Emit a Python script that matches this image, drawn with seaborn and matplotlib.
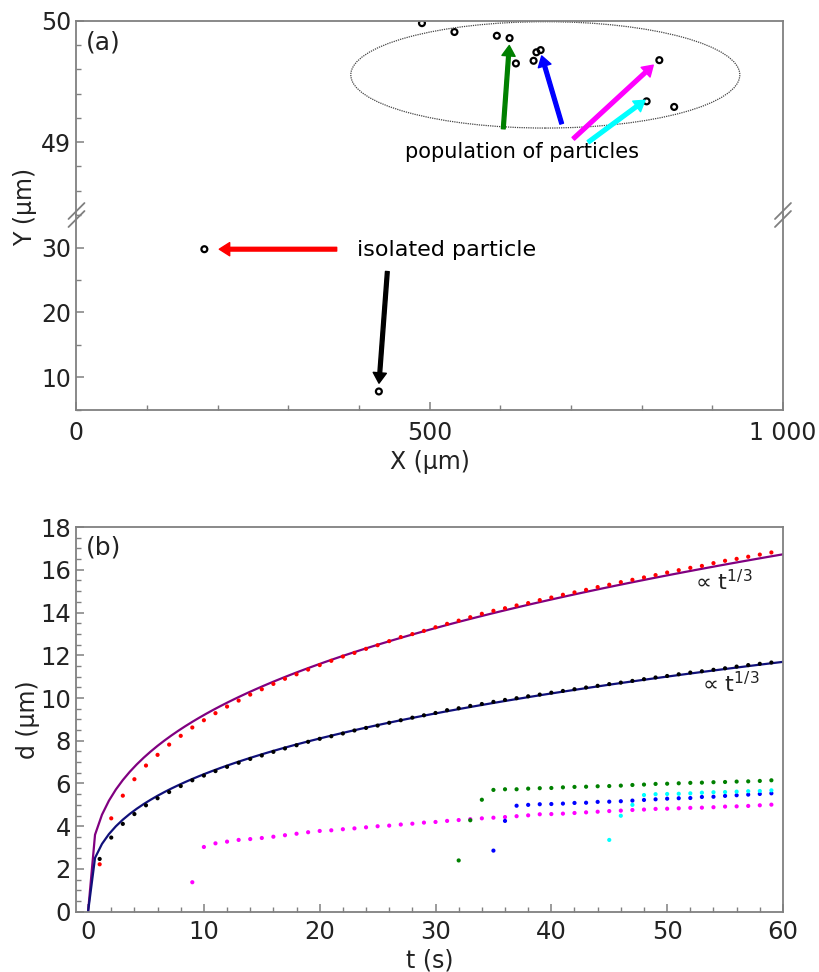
import matplotlib
import numpy as np
import pandas as pd

matplotlib.use("Agg")
import matplotlib.pyplot as plt
import seaborn as sns
from matplotlib.patches import Ellipse
from matplotlib.ticker import FixedLocator, MultipleLocator

# ---- panel (a): particle positions (um) ----
pop_x = [489, 535, 595, 613, 622, 647, 651, 657, 825, 807, 846]
pop_y = [49.98, 49.907, 49.876, 49.857, 49.648, 49.67, 49.74, 49.758, 49.675, 49.336, 49.29]
iso_x = [181, 428]
iso_y = [29.74, 7.85]
x_ticks = [0, 500, 1000]
x_tick_labels = ["0", "500", "1 000"]

# ---- panel (b): distance d (um) against time t (s), one value per second ----
t_black = np.arange(1, 60)
d_black = [2.47, 3.47, 4.11, 4.57, 4.98, 5.31, 5.60, 5.88, 6.15, 6.37,
           6.58, 6.78, 6.97, 7.15, 7.31, 7.48, 7.64, 7.79, 7.95, 8.09,
           8.21, 8.34, 8.48, 8.60, 8.71, 8.84, 8.96, 9.08, 9.19, 9.30,
           9.43, 9.52, 9.63, 9.72, 9.82, 9.91, 9.99, 10.08, 10.16, 10.25,
           10.33, 10.41, 10.49, 10.57, 10.65, 10.72, 10.80, 10.88, 10.96, 11.03,
           11.11, 11.19, 11.25, 11.32, 11.39, 11.47, 11.54, 11.60, 11.66]
t_red = np.arange(1, 60)
d_red = [2.22, 4.37, 5.43, 6.20, 6.84, 7.34, 7.82, 8.23, 8.62, 8.96,
         9.29, 9.60, 9.88, 10.16, 10.41, 10.66, 10.90, 11.11, 11.33, 11.54,
         11.74, 11.94, 12.11, 12.30, 12.47, 12.66, 12.85, 12.99, 13.14, 13.31,
         13.47, 13.62, 13.78, 13.94, 14.08, 14.20, 14.33, 14.44, 14.58, 14.70,
         14.83, 14.94, 15.06, 15.19, 15.30, 15.42, 15.53, 15.64, 15.75, 15.87,
         15.98, 16.09, 16.18, 16.31, 16.42, 16.51, 16.61, 16.71, 16.81]
t_magenta = np.arange(9, 60)
d_magenta = [1.38, 3.03, 3.20, 3.28, 3.36, 3.40, 3.45, 3.51, 3.58, 3.65,
             3.72, 3.78, 3.81, 3.86, 3.90, 3.95, 4.00, 4.03, 4.08, 4.12,
             4.17, 4.20, 4.25, 4.29, 4.33, 4.37, 4.40, 4.43, 4.47, 4.51,
             4.56, 4.57, 4.59, 4.62, 4.65, 4.68, 4.71, 4.73, 4.76, 4.78,
             4.81, 4.82, 4.84, 4.86, 4.87, 4.89, 4.92, 4.93, 4.95, 4.98, 5.01]
t_green = np.arange(32, 60)
d_green = [2.40, 4.28, 5.24, 5.70, 5.73, 5.73, 5.76, 5.78, 5.79, 5.82,
           5.84, 5.85, 5.87, 5.88, 5.90, 5.93, 5.95, 5.98, 5.99, 6.01,
           6.03, 6.04, 6.06, 6.07, 6.09, 6.10, 6.12, 6.15]
t_blue = np.arange(35, 60)
d_blue = [2.86, 4.25, 4.96, 5.00, 5.03, 5.04, 5.06, 5.09, 5.10, 5.14,
          5.15, 5.17, 5.20, 5.23, 5.26, 5.29, 5.31, 5.32, 5.37, 5.38,
          5.42, 5.45, 5.48, 5.51, 5.54]
t_cyan = np.arange(45, 60)
d_cyan = [3.36, 4.49, 5.00, 5.46, 5.50, 5.51, 5.52, 5.54, 5.57, 5.59,
          5.60, 5.62, 5.64, 5.65, 5.68]

colors = {"black": "black", "red": "red", "magenta": "magenta",
          "green": "green", "blue": "blue", "cyan": "cyan"}

sns.set_theme(style="ticks")
plt.rcParams["font.family"] = ["DejaVu Sans"]
plt.rcParams.update({
    "xtick.direction": "in", "ytick.direction": "in",
    "axes.edgecolor": "#808080", "axes.linewidth": 1.3,
    "xtick.color": "#808080", "ytick.color": "#808080",
    "xtick.labelcolor": "#222222", "ytick.labelcolor": "#222222",
    "xtick.major.size": 6, "ytick.major.size": 6,
    "xtick.minor.size": 3.5, "ytick.minor.size": 3.5,
    "xtick.major.width": 1.1, "ytick.major.width": 1.1,
    "xtick.minor.width": 1.0, "ytick.minor.width": 1.0,
})

fig = plt.figure(figsize=(8.19, 9.72), dpi=100)
ax_top = fig.add_axes([0.0934, 0.7788, 0.8626, 0.1999])
ax_low = fig.add_axes([0.0934, 0.5782, 0.8626, 0.2006])
ax_b = fig.add_axes([0.0934, 0.0620, 0.8626, 0.3958])

# ---------- panel (a) ----------
for ax in (ax_top, ax_low):
    ax.set_xlim(0, 1000)
ax_top.set_ylim(48.4, 50)
ax_low.set_ylim(5, 35)

ax_top.spines["bottom"].set_visible(False)
ax_low.spines["top"].set_visible(False)
ax_top.tick_params(axis="x", which="both", bottom=False, labelbottom=False)
ax_top.yaxis.set_major_locator(MultipleLocator(1))
ax_top.yaxis.set_minor_locator(MultipleLocator(0.2))
ax_low.yaxis.set_major_locator(MultipleLocator(10))
ax_low.yaxis.set_minor_locator(MultipleLocator(5))
ax_low.xaxis.set_major_locator(FixedLocator(x_ticks))
ax_low.set_xticklabels(x_tick_labels)
ax_low.xaxis.set_minor_locator(MultipleLocator(100))
for ax in (ax_top, ax_low):
    ax.tick_params(axis="y", labelsize=17, pad=4)
ax_low.tick_params(axis="x", labelsize=17, pad=8)

ring = dict(marker="o", s=18, facecolor="none", edgecolor="black", linewidth=1.6)
sns.scatterplot(x=pop_x, y=pop_y, ax=ax_top, **ring)
sns.scatterplot(x=iso_x, y=iso_y, ax=ax_low, **ring)

ax_top.add_patch(Ellipse((663.6, 49.554), 550.6, 0.876, fill=False,
                         ls=(0, (1, 0.8)), lw=0.9, ec="#444444"))

arr = dict(width=2.7, headwidth=9.5, headlength=7.5, shrink=0)
top_arrows = [
    ("green", (612.6, 49.796), (604.1, 49.11)),
    ("blue", (658.5, 49.71), (686.8, 49.152)),
    ("magenta", (816.4, 49.634), (703.2, 49.028)),
    ("cyan", (804.7, 49.345), (724.4, 49.0)),
]
for c, head, tail in top_arrows:
    ax_top.annotate("", xy=head, xytext=tail,
                    arrowprops=dict(facecolor=c, edgecolor=c, **arr))
ax_top.text(630.6, 48.917, "population of particles", ha="center", va="center",
            fontsize=15, color="black")

ax_low.annotate("", xy=(202.1, 29.74), xytext=(368.3, 29.74),
                arrowprops=dict(facecolor="red", edgecolor="red", **arr))
ax_low.annotate("", xy=(428.2, 9.12), xytext=(440, 26.3),
                arrowprops=dict(facecolor="black", edgecolor="black", **arr))
ax_low.text(524.4, 29.6, "isolated particle", ha="center", va="center",
            fontsize=16, color="black")

ax_top.text(0.013, 0.888, "(a)", transform=ax_top.transAxes, ha="left",
            va="center", fontsize=18, color="#222222")

# break marks "//" on both vertical spines
dx, dy, off = 0.0113, 0.041, 0.0205
for xs in (0, 1):
    for o in (-off, off):
        ax_low.plot([xs - dx, xs + dx], [1 + o - dy, 1 + o + dy],
                    transform=ax_low.transAxes, color="#808080", lw=1.3,
                    clip_on=False)

ax_low.set_xlabel("X (µm)", fontsize=17, color="#222222", labelpad=3.5)
fig.text(0.031, 1 - 207 / 972, "Y (µm)", rotation=90, ha="center",
         va="center", fontsize=17, color="#222222")

# ---------- panel (b) ----------
series = [("black", t_black, d_black), ("red", t_red, d_red),
          ("magenta", t_magenta, d_magenta), ("green", t_green, d_green),
          ("blue", t_blue, d_blue), ("cyan", t_cyan, d_cyan)]
df = pd.concat([pd.DataFrame({"t": t, "d": d, "particle": name})
                for name, t, d in series], ignore_index=True)

# d = A * t^(1/3), A from a least-squares fit of the black and red points
t_fit = np.linspace(0, 60, 101)
for name, line_c in (("red", "#800080"), ("black", "#10107a")):
    sub = df[df["particle"] == name]
    tc = sub["t"].to_numpy() ** (1 / 3)
    amp = np.sum(sub["d"].to_numpy() * tc) / np.sum(tc ** 2)
    sns.lineplot(x=t_fit, y=amp * t_fit ** (1 / 3), ax=ax_b, color=line_c,
                 lw=1.6, sort=False, errorbar=None)

sns.scatterplot(data=df, x="t", y="d", hue="particle", palette=colors,
                s=9, linewidth=0, legend=False, ax=ax_b, zorder=3)

ax_b.set_xlim(-1, 60)
ax_b.set_ylim(0, 18)
ax_b.xaxis.set_major_locator(MultipleLocator(10))
ax_b.xaxis.set_minor_locator(MultipleLocator(2))
ax_b.yaxis.set_major_locator(MultipleLocator(2))
ax_b.yaxis.set_minor_locator(MultipleLocator(0.5))
ax_b.tick_params(axis="both", labelsize=17.5)
ax_b.tick_params(axis="x", pad=6)
ax_b.tick_params(axis="y", pad=4)
ax_b.set_xlabel("t (s)", fontsize=17, color="#222222", labelpad=3.5)
ax_b.set_ylabel("d (µm)", fontsize=17, color="#222222", labelpad=0)

ax_b.text(54.9, 15.45, "∝ t$^{1/3}$", ha="center", va="center", fontsize=16,
          color="#222222")
ax_b.text(55.5, 10.69, "∝ t$^{1/3}$", ha="center", va="center", fontsize=16,
          color="#222222")
ax_b.text(0.013, 0.947, "(b)", transform=ax_b.transAxes, ha="left",
          va="center", fontsize=18, color="#222222")

fig.savefig("out.png", dpi=100)
plt.close(fig)
